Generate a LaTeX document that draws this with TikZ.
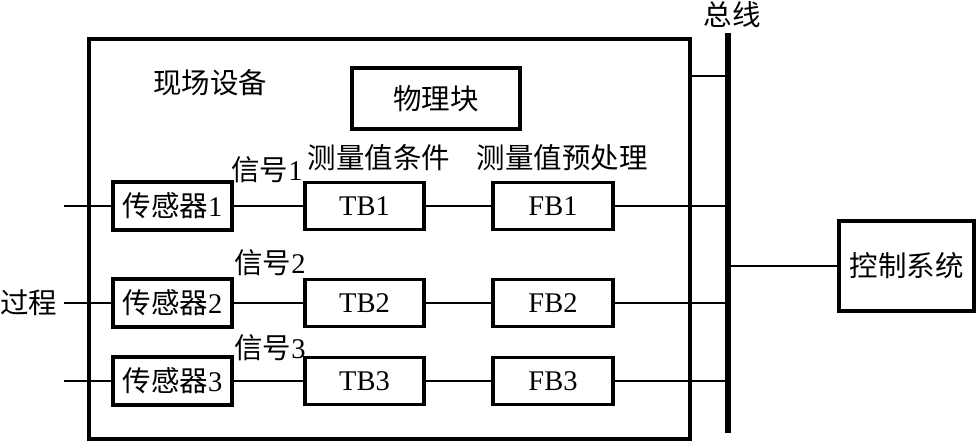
\documentclass[tikz,border=0pt]{standalone}
\usepackage{fontspec}
\setmainfont{Liberation Serif}
\newfontfamily\cjk{Noto Sans CJK SC}
\begin{document}
\begin{tikzpicture}[x=1pt,y=-1pt, font=\fontsize{28.5}{32}\selectfont,
  blk/.style={draw, line width=3.3pt, inner sep=0pt, minimum width=119pt, minimum height=47pt},
  wire/.style={line width=1.6pt},
  lbl/.style={inner sep=0pt}]
\useasboundingbox (0,0) rectangle (977,442);
% outer device box
\node[draw, line width=3.6pt, minimum width=601pt, minimum height=400pt, inner sep=0pt] (dev) at (389.5,239) {};
% bus
\coordinate (bustop) at (728,33);
\coordinate (busbot) at (728,433);
\draw[line width=5.5pt] (bustop) -- (busbot);
\node[lbl] (buslbl) at (732,15) {\cjk 总线};
% labels
\node[lbl] (devlbl) at (210,83) {\cjk 现场设备};
\node[blk, minimum width=168pt, minimum height=61pt] (pb) at (436,98.5) {\cjk 物理块};
\node[lbl] (tblbl) at (379,158) {\cjk 测量值条件};
\node[lbl] (fblbl) at (562,158) {\cjk 测量值预处理};
\node[lbl] (sig1) at (267,170) {{\cjk 信号}1};
\node[lbl] (sig2) at (270,263) {{\cjk 信号}2};
\node[lbl] (sig3) at (270,348) {{\cjk 信号}3};
\node[lbl] (proc) at (29,303) {\cjk 过程};
% rows
\foreach \i/\y in {1/206,2/303,3/381}{
  \coordinate (in\i) at (64,\y);
  \coordinate (b\i) at (728,\y);
  \node[blk, minimum height=48pt] (s\i) at (172.5,\y) {{\cjk 传感器}\i};
  \node[blk] (t\i) at (364.5,\y) {TB\i};
  \node[blk, minimum width=120pt] (f\i) at (553,\y) {FB\i};
  \draw[wire] (in\i) -- (s\i);
  \draw[wire] (s\i) -- (t\i);
  \draw[wire] (t\i) -- (f\i);
  \draw[wire] (f\i) -- (b\i);
}
% physical block link to bus
\coordinate (pbbus) at (728,76);
\draw[wire] (dev.east |- pbbus) -- (pbbus);
% control system
\node[blk, line width=3.6pt, minimum width=135pt, minimum height=90pt] (cs) at (906.5,266) {\cjk 控制系统};
\coordinate (bcs) at (728,266);
\draw[wire] (bcs) -- (cs);
\end{tikzpicture}
\end{document}
